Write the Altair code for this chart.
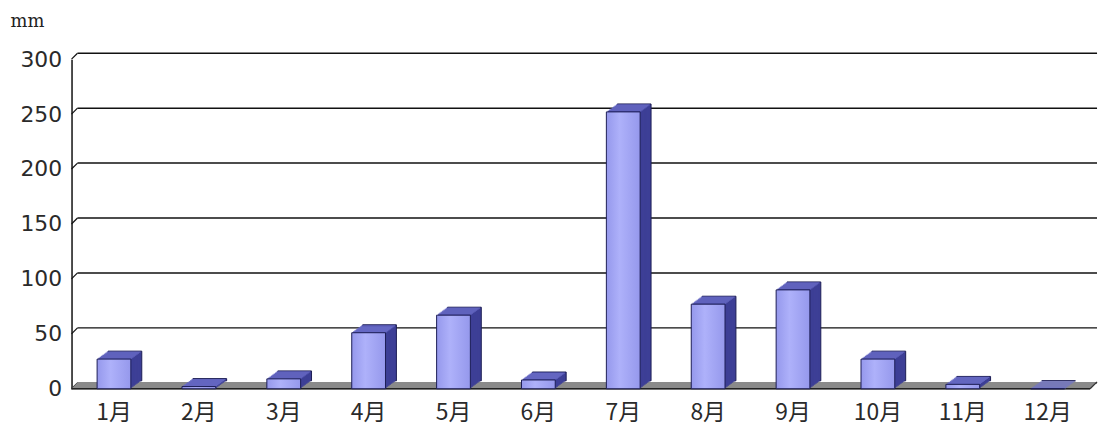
import altair as alt
import pandas as pd

months = ["1月", "2月", "3月", "4月", "5月", "6月", "7月", "8月", "9月", "10月", "11月", "12月"]
rain = [27, 2, 9, 51, 67, 8, 252, 77, 90, 27, 4, 0]
y_ticks = [0, 50, 100, 150, 200, 250, 300]
unit_label = "mm"

W, H, D, BW = 1026, 332, 8, 34
DX = 11 / 8
SIDE, TOP, EDGE = "#3d3f96", "#7073cf", "#1c1d55"

df = pd.DataFrame({"month": months, "rain": rain})
gdf = pd.DataFrame({"v": y_ticks})
zdf = pd.DataFrame({"v": [0]})

xscale = alt.Scale(domain=months, paddingInner=0, paddingOuter=0)
yscale = alt.Scale(domain=[0, 300], nice=False)

XAXIS = alt.Axis(domain=False, ticks=False, labelAngle=0, labelPadding=13, title=None,
                 labelFont="Noto Sans CJK SC", labelFontSize=23, labelColor="#2a2a2a")
YAXIS = alt.Axis(values=y_ticks, grid=False, ticks=False, domain=True, domainColor="#111111",
                 domainWidth=1.5, labelPadding=10, labelFont="DejaVu Sans", labelFontSize=22,
                 labelColor="#2a2a2a", title=unit_label, titleAngle=0, titleX=-62, titleY=-38,
                 titleAlign="left", titleBaseline="middle", titleFont="DejaVu Serif",
                 titleFontSize=18, titleFontWeight="normal", titleColor="#222222")


def xe():
    return alt.X("month:N", sort=months, scale=xscale, axis=XAXIS)


def ye(field="rain"):
    return alt.Y(f"{field}:Q", scale=yscale, axis=YAXIS)


layers = []

# back wall gridlines
layers.append(
    alt.Chart(gdf).mark_rule(color="#111111", strokeWidth=1.5, xOffset=6, x2Offset=7, yOffset=-6)
    .encode(x=alt.value(0), x2=alt.value(W), y=ye("v"))
)
# diagonal stubs from front axis to back wall
layers.append(
    alt.Chart(gdf).mark_rule(color="#111111", strokeWidth=1.2, y2Offset=-6)
    .encode(x=alt.value(0), x2=alt.value(6), y=ye("v"), y2=alt.Y2("v:Q"))
)
# floor
for k in range(0, 7):
    layers.append(
        alt.Chart(zdf).mark_rule(color="#8a8a8a", strokeWidth=1.5, xOffset=k, x2Offset=k, yOffset=-k)
        .encode(x=alt.value(0), x2=alt.value(W), y=ye("v"))
    )
layers.append(
    alt.Chart(zdf).mark_rule(color="#222222", strokeWidth=1.5)
    .encode(x=alt.value(0), x2=alt.value(W), y=ye("v"))
)
layers.append(
    alt.Chart(zdf).mark_rule(color="#333333", strokeWidth=1.2, y2Offset=-7)
    .encode(x=alt.value(W), x2=alt.value(W + 7), y=ye("v"), y2=alt.Y2("v:Q"))
)

# bar side copies
for k in range(D, 0, -1):
    kw = dict(width=BW, xOffset=round(k * DX, 2), yOffset=-k, color=SIDE)
    if k == D:
        kw.update(stroke=EDGE, strokeWidth=1)
    layers.append(alt.Chart(df).mark_bar(**kw).encode(x=xe(), y=ye()))
# bar top face
for k in range(1, D):
    layers.append(
        alt.Chart(df).mark_tick(orient="horizontal", size=BW, thickness=1.3,
                                xOffset=round(k * DX, 2), yOffset=-k, color=TOP)
        .encode(x=xe(), y=ye())
    )
# front face
front_fill = alt.Gradient(
    gradient="linear",
    stops=[alt.GradientStop(color="#9598ec", offset=0),
           alt.GradientStop(color="#aeb1fa", offset=0.4),
           alt.GradientStop(color="#9598ec", offset=1)],
    x1=0, x2=1, y1=0, y2=0,
)
layers.append(
    alt.Chart(df).mark_bar(width=BW, color=front_fill, stroke=EDGE, strokeWidth=1)
    .encode(x=xe(), y=ye())
)

chart = alt.layer(*layers).properties(
    width=W, height=H,
    autosize=alt.AutoSizeParams(type="none"),
    padding={"left": 64, "top": 50, "right": 12, "bottom": 40},
    background="white",
).configure_view(stroke=None)

chart.save("out.html", embed_options={"renderer": "svg", "actions": False})
